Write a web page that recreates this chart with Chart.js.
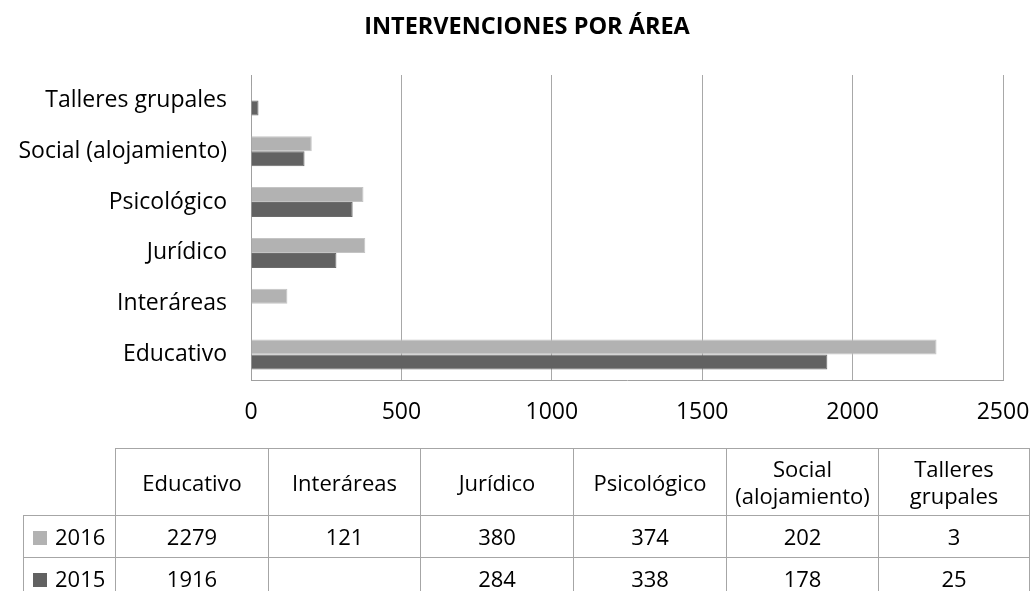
<!DOCTYPE html>
<html>
<head>
<meta charset="utf-8">
<script src="https://cdn.jsdelivr.net/npm/chart.js@4/dist/chart.umd.min.js"></script>
<style>
  html, body { margin: 0; padding: 0; background: #fff; }
  #wrap { position: relative; width: 1032px; height: 591px; overflow: hidden; }
  #chart { position: absolute; left: 0; top: 0; }
  #title {
    position: absolute; top: 9px; left: 327px; width: 400px; text-align: center;
    font-family: "Open Sans", sans-serif; font-weight: bold; font-size: 23.5px; color: #000;
    white-space: nowrap;
  }
  #dataTable {
    position: absolute; left: 23px; top: 448px;
    border-collapse: collapse; table-layout: fixed;
    font-family: "Open Sans", sans-serif; font-size: 22px; color: #000;
  }
  #dataTable td { border: 1px solid #a6a6a6; text-align: center; padding: 0; line-height: 27px; }
  #dataTable tr.head td { height: 66px; }
  #dataTable tr.row td { height: 41px; }
  #dataTable td.blank { border-top: none; border-left: none; }
  #dataTable td.key { text-align: left; padding-left: 9px; }
  .swatch { display: inline-block; width: 14px; height: 14px; margin-right: 8px; vertical-align: 0px; }
</style>
</head>
<body>
<div id="wrap">
  <canvas id="chart" width="1032" height="591"></canvas>
  <div id="title"></div>
  <table id="dataTable"></table>
</div>
<script>
var chartTitle = 'INTERVENCIONES POR ÁREA';
var categories = ['Educativo', 'Interáreas', 'Jurídico', 'Psicológico', 'Social (alojamiento)', 'Talleres grupales'];
var headerLabels = ['Educativo', 'Interáreas', 'Jurídico', 'Psicológico', 'Social<br>(alojamiento)', 'Talleres<br>grupales'];
var values2016 = [2279, 121, 380, 374, 202, 3];
var values2015 = [1916, null, 284, 338, 178, 25];
var seriesNames = ['2016', '2015'];
var xTicks = [0, 500, 1000, 1500, 2000, 2500];

var lightGray = '#b2b2b2';
var darkGray = '#626262';

document.getElementById('title').textContent = chartTitle;

var ctx = document.getElementById('chart').getContext('2d');
new Chart(ctx, {
    type: 'bar',
    data: {
        labels: categories,
        datasets: [{
            label: seriesNames[0],
            data: values2016,
            backgroundColor: lightGray,
            borderColor: '#c4c4c4',
            borderWidth: 1,
            categoryPercentage: 0.59,
            barPercentage: 1
        }, {
            label: seriesNames[1],
            data: values2015,
            backgroundColor: darkGray,
            borderColor: '#6c6c6c',
            borderWidth: 1,
            categoryPercentage: 0.59,
            barPercentage: 1
        }]
    },
    options: {
        indexAxis: 'y',
        responsive: false,
        animation: false,
        layout: { padding: { left: 0, right: 29, top: 75, bottom: 166 } },
        plugins: {
            legend: { display: false },
            tooltip: { enabled: false },
            title: { display: false }
        },
        scales: {
            x: {
                min: 0,
                max: 2500,
                afterBuildTicks: function (scale) {
                    scale.ticks = xTicks.map(function (v) { return { value: v }; });
                },
                afterFit: function (scale) {
                    scale.height = 45;
                    scale.paddingLeft = 0;
                    scale.paddingRight = 0;
                },
                grid: { color: '#a8a8a8', drawTicks: false },
                border: { color: '#a0a0a0' },
                ticks: {
                    color: '#000',
                    padding: 19,
                    maxRotation: 0,
                    font: { family: 'Open Sans', size: 23 },
                    callback: function (v) { return String(v); }
                }
            },
            y: {
                reverse: true,
                afterFit: function (scale) { scale.width = 251; },
                grid: { display: false, drawTicks: false },
                border: { display: true, color: '#a0a0a0' },
                ticks: {
                    color: '#000',
                    padding: 24,
                    font: { family: 'Open Sans', size: 23 }
                }
            }
        }
    }
});

// data table under the chart
var table = document.getElementById('dataTable');
var colWidths = [92, 153, 152, 153, 153, 152, 151];
var colgroup = '<colgroup>' + colWidths.map(function (w) { return '<col style="width:' + w + 'px">'; }).join('') + '</colgroup>';
var html = colgroup + '<tr class="head"><td class="blank"></td>';
headerLabels.forEach(function (h) { html += '<td>' + h + '</td>'; });
html += '</tr>';
[[seriesNames[0], values2016, lightGray], [seriesNames[1], values2015, darkGray]].forEach(function (s) {
    html += '<tr class="row"><td class="key"><span class="swatch" style="background:' + s[2] + '"></span>' + s[0] + '</td>';
    s[1].forEach(function (v) { html += '<td>' + (v === null ? '' : v) + '</td>'; });
    html += '</tr>';
});
table.innerHTML = html;
</script>
</body>
</html>
